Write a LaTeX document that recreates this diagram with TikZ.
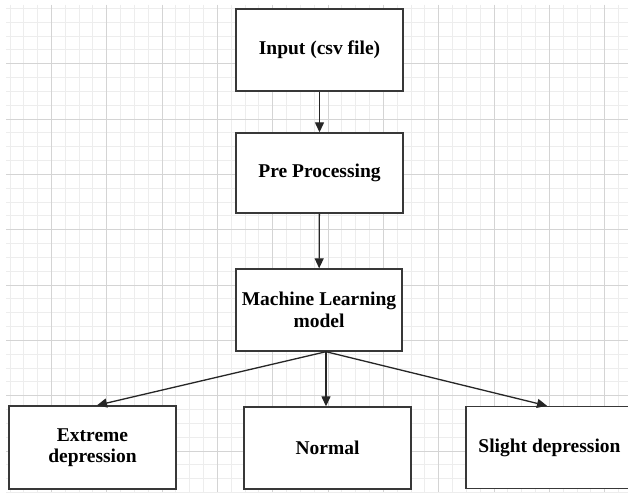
\documentclass[tikz,border=0pt]{standalone}
\usepackage{fontspec}
\setmainfont{Liberation Serif}
\usetikzlibrary{arrows.meta}
\tikzset{
  box/.style={draw=black!78, line width=1.4pt, fill=white, minimum width=167pt,
    minimum height=82pt, inner sep=2pt, align=center,
    font=\fontsize{19.5}{21.5}\selectfont\bfseries},
  arr/.style={draw=black!85, line width=1.3pt, -{Triangle[length=10pt,width=9pt]}},
  minorline/.style={draw=black!7, line width=1pt},
  majorline/.style={draw=black!17, line width=1pt}
}
\begin{document}
\begin{tikzpicture}[x=1pt, y=-1pt]
  \clip (0,0) rectangle (628,492);
  \fill[white] (0,0) rectangle (628,492);
  % background grid: minor every 13.83pt, major every 55.32pt,
  % each line snapped to the middle of a whole point
  \begin{scope}
    \clip (6,5) rectangle (628,492);
    \foreach \k in {-3,...,41} {
      \pgfmathsetmacro{\xx}{round(51+13.83*\k)+0.5}
      \draw[minorline] (\xx,5) -- (\xx,492);
    }
    \foreach \k in {-4,...,31} {
      \pgfmathsetmacro{\yy}{round(63.3+13.83*\k)+0.5}
      \draw[minorline] (6,\yy) -- (628,\yy);
    }
    \foreach \k in {0,...,10} {
      \pgfmathsetmacro{\xx}{round(51+55.32*\k)+0.5}
      \draw[majorline] (\xx,5) -- (\xx,492);
    }
    \foreach \k in {0,...,7} {
      \pgfmathsetmacro{\yy}{round(63.3+55.32*\k)+0.5}
      \draw[majorline] (6,\yy) -- (628,\yy);
    }
  \end{scope}

  % pipeline boxes
  \node[box] (inp) at (319.5,50) {Input (csv file)};
  \node[box, minimum height=80pt] (pre) at (319.5,173) {Pre Processing};
  \node[box, minimum width=166pt] (ml) at (319,310) {Machine Learning\\model};

  % outcome boxes
  \node[box, minimum height=83pt] (ext) at (92.5,447.5) {Extreme\\depression};
  \node[box] (nor) at (327.5,448) {Normal};
  \node[box] (sli) at (549.5,447.5) {Slight depression};

  % connectors
  \draw[arr] (inp) -- (pre);
  \draw[arr] (pre) -- (ml);
  \coordinate (fan) at ([xshift=7pt]ml.south);
  \draw[arr] (fan) -- ([xshift=4.5pt]ext.north);
  \draw[arr] (fan) -- (fan |- nor.north);
  \draw[arr] (fan) -- ([xshift=-2.5pt]sli.north);
\end{tikzpicture}
\end{document}
